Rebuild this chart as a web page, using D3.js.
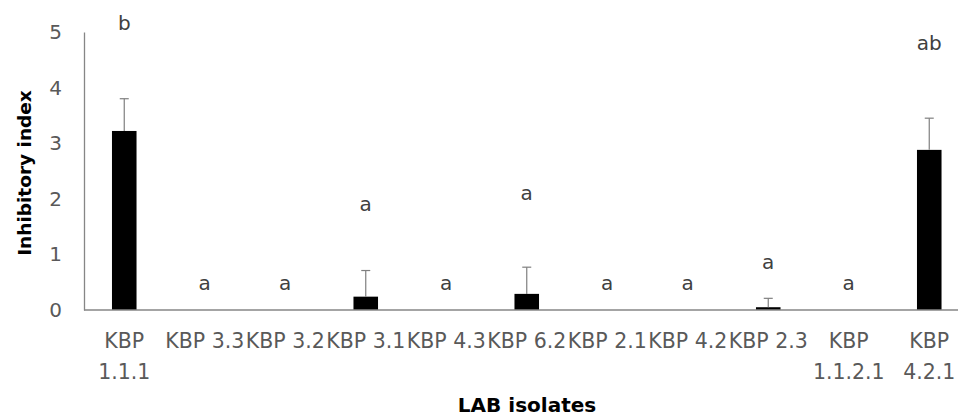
<!DOCTYPE html>
<html>
<head>
<meta charset="utf-8">
<script src="https://cdn.jsdelivr.net/npm/d3@7"></script>
<style>
  body { margin: 0; background: #fff; }
  svg { display: block; }
</style>
</head>
<body>
<svg class="chart" width="958" height="419"></svg>
<script>
// Inhibitory index per LAB isolate

var isolates = ["KBP 1.1.1", "KBP 3.3", "KBP 3.2", "KBP 3.1", "KBP 4.3", "KBP 6.2",
                "KBP 2.1", "KBP 4.2", "KBP 2.3", "KBP 1.1.2.1", "KBP 4.2.1"];
var means = [3.22, 0, 0, 0.24, 0, 0.29, 0, 0, 0.05, 0, 2.88];
var errors = [0.58, 0, 0, 0.47, 0, 0.48, 0, 0, 0.16, 0, 0.57];
var letters = ["b", "a", "a", "a", "a", "a", "a", "a", "a", "a", "ab"];
var letterPos = [5.04, 0.36, 0.36, 1.78, 0.36, 1.98, 0.36, 0.36, 0.74, 0.36, 4.68];
var yTicks = [0, 1, 2, 3, 4, 5];

var font = "'DejaVu Sans', sans-serif";
var svg = d3.select(".chart");

var x = d3.scaleBand()
    .domain(isolates)
    .range([84, 969.5])
    .paddingInner(0.695)
    .paddingOuter(0.3475);

var y = d3.scaleLinear()
    .domain([0, 5])
    .range([310, 32]);

var rows = isolates.map(function (d, i) {
    return { name: d, mean: means[i], err: errors[i], letter: letters[i], pos: letterPos[i] };
});

// y axis
var yAxis = svg.append("g")
    .attr("transform", "translate(84,0)")
    .call(d3.axisLeft(y).tickValues(yTicks).tickSize(0).tickPadding(22).tickFormat(d3.format("d")));
yAxis.select(".domain").attr("stroke", "#868686").attr("stroke-width", 1.3);
yAxis.selectAll("text")
    .attr("font-family", font)
    .attr("font-size", "20px")
    .attr("fill", "#595959");

// bars
svg.selectAll(".bar")
    .data(rows).enter()
    .append("rect")
    .attr("class", "bar")
    .attr("x", function (d) { return x(d.name); })
    .attr("y", function (d) { return y(d.mean); })
    .attr("width", x.bandwidth())
    .attr("height", function (d) { return y(0) - y(d.mean); })
    .attr("fill", "#000");

// error bars (upper only)
var eb = svg.selectAll(".err")
    .data(rows.filter(function (d) { return d.err > 0; })).enter()
    .append("g")
    .attr("class", "err")
    .attr("stroke", "#7f7f7f")
    .attr("stroke-width", 1.2);

eb.append("line")
    .attr("x1", function (d) { return x(d.name) + x.bandwidth() / 2; })
    .attr("x2", function (d) { return x(d.name) + x.bandwidth() / 2; })
    .attr("y1", function (d) { return y(d.mean); })
    .attr("y2", function (d) { return y(d.mean + d.err); });

eb.append("line")
    .attr("x1", function (d) { return x(d.name) + x.bandwidth() / 2 - 4.5; })
    .attr("x2", function (d) { return x(d.name) + x.bandwidth() / 2 + 4.5; })
    .attr("y1", function (d) { return y(d.mean + d.err); })
    .attr("y2", function (d) { return y(d.mean + d.err); });

// x axis line
svg.append("line")
    .attr("x1", 84)
    .attr("x2", 958)
    .attr("y1", y(0))
    .attr("y2", y(0))
    .attr("stroke", "#868686")
    .attr("stroke-width", 1.3);

// significance letters
svg.selectAll(".letter")
    .data(rows).enter()
    .append("text")
    .attr("class", "letter")
    .attr("x", function (d) { return x(d.name) + x.bandwidth() / 2; })
    .attr("y", function (d) { return y(d.pos); })
    .attr("text-anchor", "middle")
    .attr("font-family", font)
    .attr("font-size", "20px")
    .attr("fill", "#404040")
    .text(function (d) { return d.letter; });

// category labels, long ones wrap onto two lines
var cats = svg.selectAll(".cat")
    .data(isolates).enter()
    .append("text")
    .attr("class", "cat")
    .attr("x", function (d) { return x(d) + x.bandwidth() / 2; })
    .attr("y", 348)
    .attr("text-anchor", "middle")
    .attr("font-family", font)
    .attr("font-size", "20.5px")
    .attr("fill", "#595959");

cats.each(function (d) {
    var t = d3.select(this);
    var parts = d.length > 7 ? d.split(" ") : [d];
    parts.forEach(function (p, i) {
        t.append("tspan")
            .attr("x", t.attr("x"))
            .attr("dy", i === 0 ? 0 : 31)
            .text(p);
    });
});

// axis titles
svg.append("text")
    .attr("transform", "translate(31,173) rotate(-90)")
    .attr("text-anchor", "middle")
    .attr("font-family", font)
    .attr("font-weight", "bold")
    .attr("font-size", "18.5px")
    .attr("fill", "#000")
    .text("Inhibitory index");

svg.append("text")
    .attr("x", 527)
    .attr("y", 412)
    .attr("text-anchor", "middle")
    .attr("font-family", font)
    .attr("font-weight", "bold")
    .attr("font-size", "20px")
    .attr("fill", "#000")
    .text("LAB isolates");
</script>
</body>
</html>
